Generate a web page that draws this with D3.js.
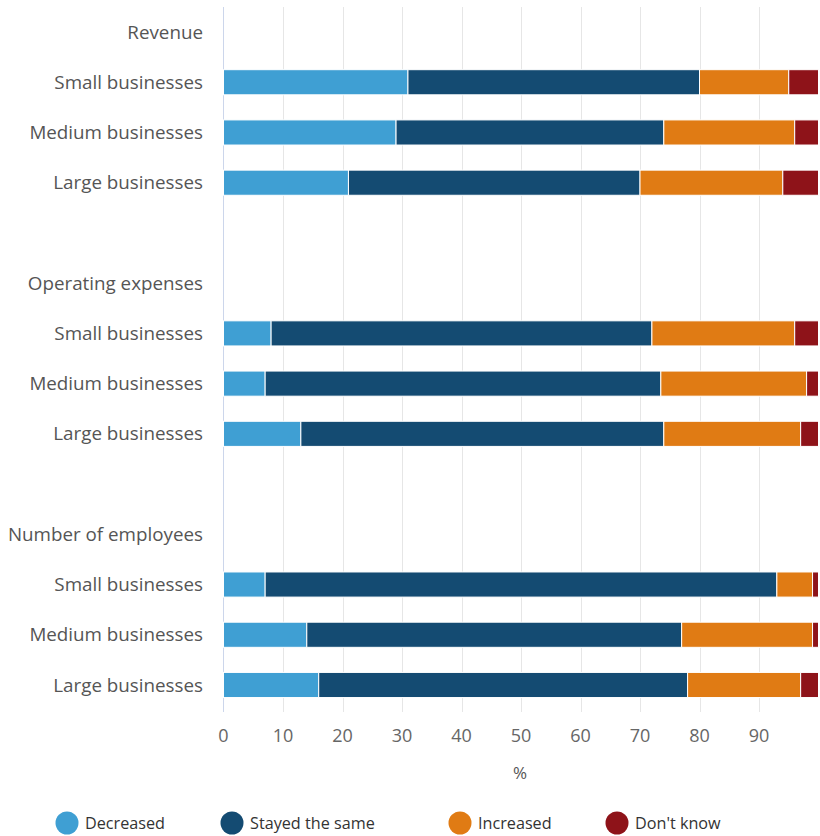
<!DOCTYPE html>
<html><head><meta charset="utf-8">
<script src="https://cdn.jsdelivr.net/npm/d3@7"></script>
<style>body{margin:0;background:#fff}svg{display:block}text{font-family:"Open Sans",sans-serif}</style>
</head><body><div id="chart"></div>
<script>
const groups = ["Revenue", "Operating expenses", "Number of employees"];
const sizes = ["Small businesses", "Medium businesses", "Large businesses"];
const seriesNames = ["Decreased", "Stayed the same", "Increased", "Don't know"];
const decreased = [31, 29, 21, 8, 7, 13, 7, 14, 16];
const stayed = [49, 45, 49, 64, 66.5, 61, 86, 63, 62];
const increased = [15, 22, 24, 24, 24.5, 23, 6, 22, 19];
const dontKnow = [5, 4, 6, 4, 2, 3, 1, 1, 3];
const xTicks = [0, 10, 20, 30, 40, 50, 60, 70, 80, 90];
const colors = ["#3f9fd3", "#144b72", "#e07b14", "#8e1319"];

const W = 820, H = 836;
const svg = d3.select("#chart").append("svg").attr("width", W).attr("height", H);

// build row slots
const slots = [];
const barRows = [];
groups.forEach((g, gi) => {
  slots.push({key: "h" + gi, label: g});
  sizes.forEach((s, si) => {
    const idx = gi * 3 + si;
    slots.push({key: "r" + idx, label: s});
    barRows.push({key: "r" + idx, vals: [decreased[idx], stayed[idx], increased[idx], dontKnow[idx]]});
  });
  if (gi < groups.length - 1) slots.push({key: "b" + gi, label: ""});
});

const x = d3.scaleLinear().domain([0, 100]).range([223.5, 818.5]);
const y = d3.scaleBand().domain(slots.map(d => d.key)).range([6.9, 710.1]).paddingInner(0.5).paddingOuter(0.25);

// gridlines
svg.append("g").selectAll("line").data(xTicks.slice(1)).join("line")
  .attr("x1", d => Math.round(x(d)) + 0.5).attr("x2", d => Math.round(x(d)) + 0.5)
  .attr("y1", 7).attr("y2", 712)
  .attr("stroke", "#e6e6e6").attr("stroke-width", 1);
// axis line (vertical category axis)
svg.append("line").attr("x1", 223.5).attr("x2", 223.5).attr("y1", 7).attr("y2", 712)
  .attr("stroke", "#ccd6eb");

// bars
const stackData = barRows.map(r => {
  let acc = 0;
  return r.vals.map((v, i) => { const s = acc; acc += v; return {key: r.key, i, x0: s, x1: acc}; });
}).flat();
svg.append("g").selectAll("rect").data(stackData).join("rect")
  .attr("x", d => x(d.x0)).attr("width", d => x(d.x1) - x(d.x0))
  .attr("y", d => y(d.key)).attr("height", y.bandwidth())
  .attr("fill", d => colors[d.i]).attr("stroke", "#fff").attr("stroke-width", 1);

// category labels
svg.append("g").selectAll("text").data(slots.filter(d => d.label)).join("text")
  .attr("x", 203).attr("y", d => y(d.key) + y.bandwidth() / 2)
  .attr("dy", "0.35em").attr("text-anchor", "end")
  .attr("font-size", 18.8).attr("fill", "#555").text(d => d.label);

// x axis tick labels
svg.append("g").selectAll("text").data(xTicks).join("text")
  .attr("x", d => x(d)).attr("y", 736).attr("dy", "0.35em")
  .attr("text-anchor", "middle").attr("font-size", 18).attr("fill", "#666").text(d => d);
svg.append("text").attr("x", 520).attr("y", 773).attr("dy", "0.35em")
  .attr("text-anchor", "middle").attr("font-size", 17).attr("fill", "#555").text("%");

// legend
const legX = [67, 232, 460, 617];
const leg = svg.append("g").selectAll("g").data(seriesNames).join("g")
  .attr("transform", (d, i) => `translate(${legX[i]},823)`);
leg.append("circle").attr("r", 11.5).attr("fill", (d, i) => colors[i]);
leg.append("text").attr("x", 18).attr("y", 0).attr("dy", "0.35em")
  .attr("font-size", 16.2).attr("fill", "#333").text(d => d);
</script></body></html>
